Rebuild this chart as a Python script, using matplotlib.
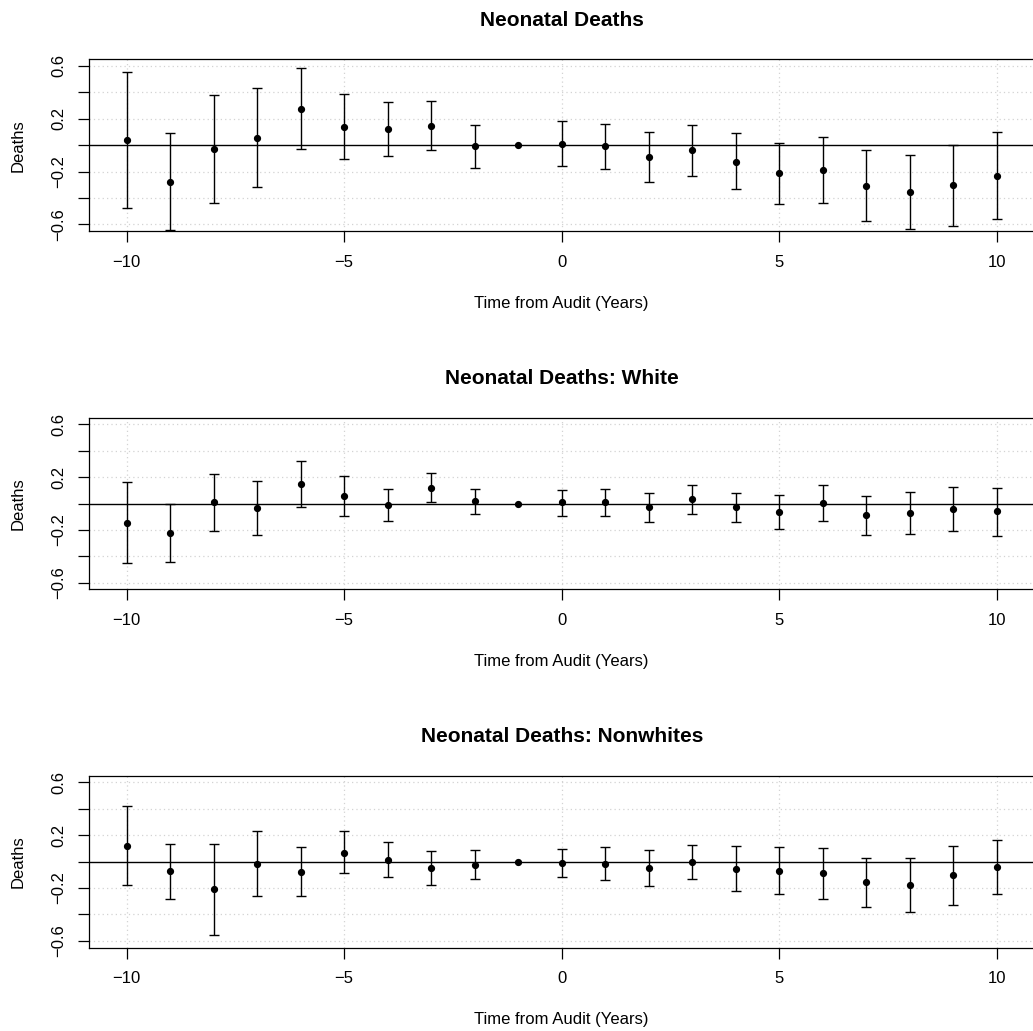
import numpy as np
import matplotlib
matplotlib.use("Agg")
import matplotlib.pyplot as plt

years = [-10, -9, -8, -7, -6, -5, -4, -3, -2, -1, 0, 1, 2, 3, 4, 5, 6, 7, 8, 9, 10]

titles = ["Neonatal Deaths", "Neonatal Deaths: White", "Neonatal Deaths: Nonwhites"]

all_est = [0.043, -0.275, -0.028, 0.058, 0.277, 0.139, 0.126, 0.149, -0.008, 0.0,
           0.010, -0.005, -0.091, -0.038, -0.124, -0.214, -0.189, -0.308, -0.353, -0.303, -0.230]
all_hi = [0.557, 0.091, 0.381, 0.431, 0.583, 0.391, 0.330, 0.335, 0.154, None,
          0.182, 0.164, 0.103, 0.154, 0.091, 0.020, 0.063, -0.038, -0.071, 0.005, 0.103]
all_lo = [-0.472, -0.641, -0.436, -0.313, -0.025, -0.108, -0.078, -0.038, -0.171, None,
          -0.159, -0.177, -0.282, -0.232, -0.335, -0.446, -0.439, -0.575, -0.636, -0.608, -0.560]

white_est = [-0.146, -0.226, 0.010, -0.035, 0.148, 0.058, -0.015, 0.121, 0.020, 0.0,
             0.008, 0.015, -0.028, 0.033, -0.028, -0.065, 0.005, -0.088, -0.073, -0.040, -0.060]
white_hi = [0.161, -0.005, 0.224, 0.171, 0.325, 0.211, 0.108, 0.231, 0.111, None,
            0.103, 0.111, 0.083, 0.143, 0.081, 0.065, 0.141, 0.058, 0.088, 0.126, 0.121]
white_lo = [-0.453, -0.445, -0.211, -0.242, -0.030, -0.096, -0.133, 0.010, -0.081, None,
            -0.093, -0.091, -0.138, -0.078, -0.141, -0.196, -0.133, -0.236, -0.234, -0.206, -0.244]

nonwhite_est = [0.120, -0.073, -0.210, -0.018, -0.075, 0.068, 0.013, -0.050, -0.028, 0.0,
                -0.010, -0.018, -0.050, -0.005, -0.055, -0.070, -0.090, -0.155, -0.175, -0.105, -0.043]
nonwhite_hi = [0.423, 0.135, 0.130, 0.228, 0.113, 0.228, 0.145, 0.078, 0.085, None,
               0.098, 0.108, 0.088, 0.125, 0.115, 0.110, 0.100, 0.030, 0.028, 0.115, 0.160]
nonwhite_lo = [-0.180, -0.283, -0.553, -0.260, -0.263, -0.090, -0.118, -0.178, -0.135, None,
               -0.118, -0.140, -0.185, -0.133, -0.225, -0.248, -0.283, -0.340, -0.380, -0.328, -0.245]

series = [(all_est, all_lo, all_hi), (white_est, white_lo, white_hi),
          (nonwhite_est, nonwhite_lo, nonwhite_hi)]

xticks = [-10, -5, 0, 5, 10]
yticks = [-0.6, -0.4, -0.2, 0.0, 0.2, 0.4, 0.6]
ytick_labels = ["\u22120.6", "", "\u22120.2", "", "0.2", "", "0.6"]
xtick_labels = ["\u221210", "\u22125", "0", "5", "10"]

plt.rcParams['font.family'] = ['Liberation Sans', 'DejaVu Sans']

W, H = 1033, 1031
fig = plt.figure(figsize=(W / 100, H / 100), dpi=100)

left_px = 88.7
right_px = 1034.8
panel_top = [59.3, 417.6, 775.7]
panel_h = 171.8

for i in range(3):
    top = panel_top[i]
    ax = fig.add_axes([left_px / W, 1 - (top + panel_h) / H,
                       (right_px - left_px) / W, panel_h / H])
    est, lo, hi = series[i]
    x = np.array(years, dtype=float)
    est = np.array(est, dtype=float)
    lo = np.array([np.nan if v is None else v for v in lo])
    hi = np.array([np.nan if v is None else v for v in hi])
    m = ~np.isnan(lo)

    ax.set_xlim(-10.87, 10.87)
    ax.set_ylim(-0.65, 0.65)
    # grid
    for gx in xticks:
        ax.axvline(gx, color='#d3d3d3', lw=0.9, ls=(0, (1, 2.5)), zorder=0)
    for gy in yticks:
        if gy != 0:
            ax.axhline(gy, color='#d3d3d3', lw=0.9, ls=(0, (1, 2.5)), zorder=0)
    ax.axhline(0, color='black', lw=1.0, zorder=1)

    ax.errorbar(x[m], est[m], yerr=[est[m] - lo[m], hi[m] - est[m]], fmt='none',
                ecolor='black', elinewidth=1.0, capsize=3.6, capthick=1.0, zorder=2)
    ax.plot(x, est, 'o', color='black', ms=4.2, zorder=3)

    ax.set_xticks(xticks)
    ax.set_xticklabels(xtick_labels)
    ax.set_yticks(yticks)
    ax.set_yticklabels(ytick_labels)
    ax.tick_params(axis='both', length=7.9, width=0.9, labelsize=12, colors='black')
    ax.tick_params(axis='x', pad=9.0)
    ax.tick_params(axis='y', pad=13.5)
    for lab in ax.get_yticklabels():
        lab.set_rotation(90)
        lab.set_va('center')
        lab.set_ha('center')
    for s in ax.spines.values():
        s.set_linewidth(0.9)
    ax.set_title(titles[i], fontsize=15, fontweight='bold', pad=24)
    ax.set_xlabel("Time from Audit (Years)", fontsize=12, labelpad=19)
    ax.set_ylabel("Deaths", fontsize=12, labelpad=18.5)

fig.savefig("out.png", dpi=100)
